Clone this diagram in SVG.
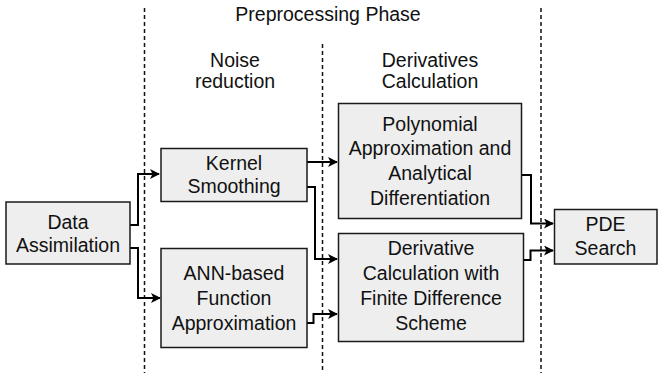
<svg xmlns="http://www.w3.org/2000/svg" width="658" height="373" viewBox="0 0 658 373">
<defs>
<style>
.box{fill:#eeeeee;stroke:#1a1a1a;stroke-width:1.5}
.t{font-family:"Liberation Sans",Arial,sans-serif;font-size:19.5px;fill:#111;text-anchor:middle}
.dash{stroke:#111;stroke-width:1.5;stroke-dasharray:4 3;fill:none}
.c{fill:none;stroke:#000;stroke-width:2}
</style>
<marker id="ah" viewBox="0 0 10 10" refX="9" refY="5" markerWidth="10" markerHeight="10" markerUnits="userSpaceOnUse" orient="auto">
<path d="M0,0 L10,5 L0,10 L2.5,5 Z" fill="#000"/>
</marker>
</defs>
<rect width="658" height="373" fill="#fff"/>
<g id="dividers">
<line class="dash" x1="144.5" y1="8" x2="144.5" y2="373"/>
<line class="dash" x1="322.5" y1="44" x2="322.5" y2="373"/>
<line class="dash" x1="541" y1="8" x2="541" y2="373"/>
</g>
<g id="headers">
<text class="t" x="328" y="20.5">Preprocessing Phase</text>
<text class="t" x="235" y="66.5">Noise</text>
<text class="t" x="235" y="87.5">reduction</text>
<text class="t" x="430" y="66.5">Derivatives</text>
<text class="t" x="430" y="87.5">Calculation</text>
</g>
<g id="connectors">
<path class="c" d="M130,225 H138 V174 H159" marker-end="url(#ah)"/>
<path class="c" d="M130,248 H138 V298 H160" marker-end="url(#ah)"/>
<path class="c" d="M307,162 H337" marker-end="url(#ah)"/>
<path class="c" d="M307,187 H315 V259 H337" marker-end="url(#ah)"/>
<path class="c" d="M307,323 H313.5 V314 H337" marker-end="url(#ah)"/>
<path class="c" d="M522,175 H531 V223.5 H553" marker-end="url(#ah)"/>
<path class="c" d="M523,260 H530.5 V250.5 H553" marker-end="url(#ah)"/>
</g>
<g id="data">
<rect class="box" x="6" y="202" width="124" height="62"/>
<text class="t" x="68" y="228.5">Data</text>
<text class="t" x="68" y="251.8">Assimilation</text>
</g>
<g id="kernel">
<rect class="box" x="161" y="148.5" width="146" height="53"/>
<text class="t" x="234" y="169.5">Kernel</text>
<text class="t" x="234" y="192.8">Smoothing</text>
</g>
<g id="ann">
<rect class="box" x="161" y="248.5" width="146" height="99"/>
<text class="t" x="234" y="280">ANN-based</text>
<text class="t" x="234" y="305">Function</text>
<text class="t" x="234" y="329.5">Approximation</text>
</g>
<g id="poly">
<rect class="box" x="338.5" y="103.5" width="183" height="115"/>
<text class="t" x="430" y="130.7">Polynomial</text>
<text class="t" x="430" y="155">Approximation and</text>
<text class="t" x="430" y="180">Analytical</text>
<text class="t" x="430" y="205">Differentiation</text>
</g>
<g id="fd">
<rect class="box" x="338.5" y="233.5" width="185" height="108"/>
<text class="t" x="431" y="255">Derivative</text>
<text class="t" x="431" y="280">Calculation with</text>
<text class="t" x="431" y="305">Finite Difference</text>
<text class="t" x="431" y="330">Scheme</text>
</g>
<g id="pde">
<rect class="box" x="554.5" y="209.5" width="102.5" height="54.5"/>
<text class="t" x="605.5" y="231">PDE</text>
<text class="t" x="605.5" y="254.5">Search</text>
</g>
</svg>
